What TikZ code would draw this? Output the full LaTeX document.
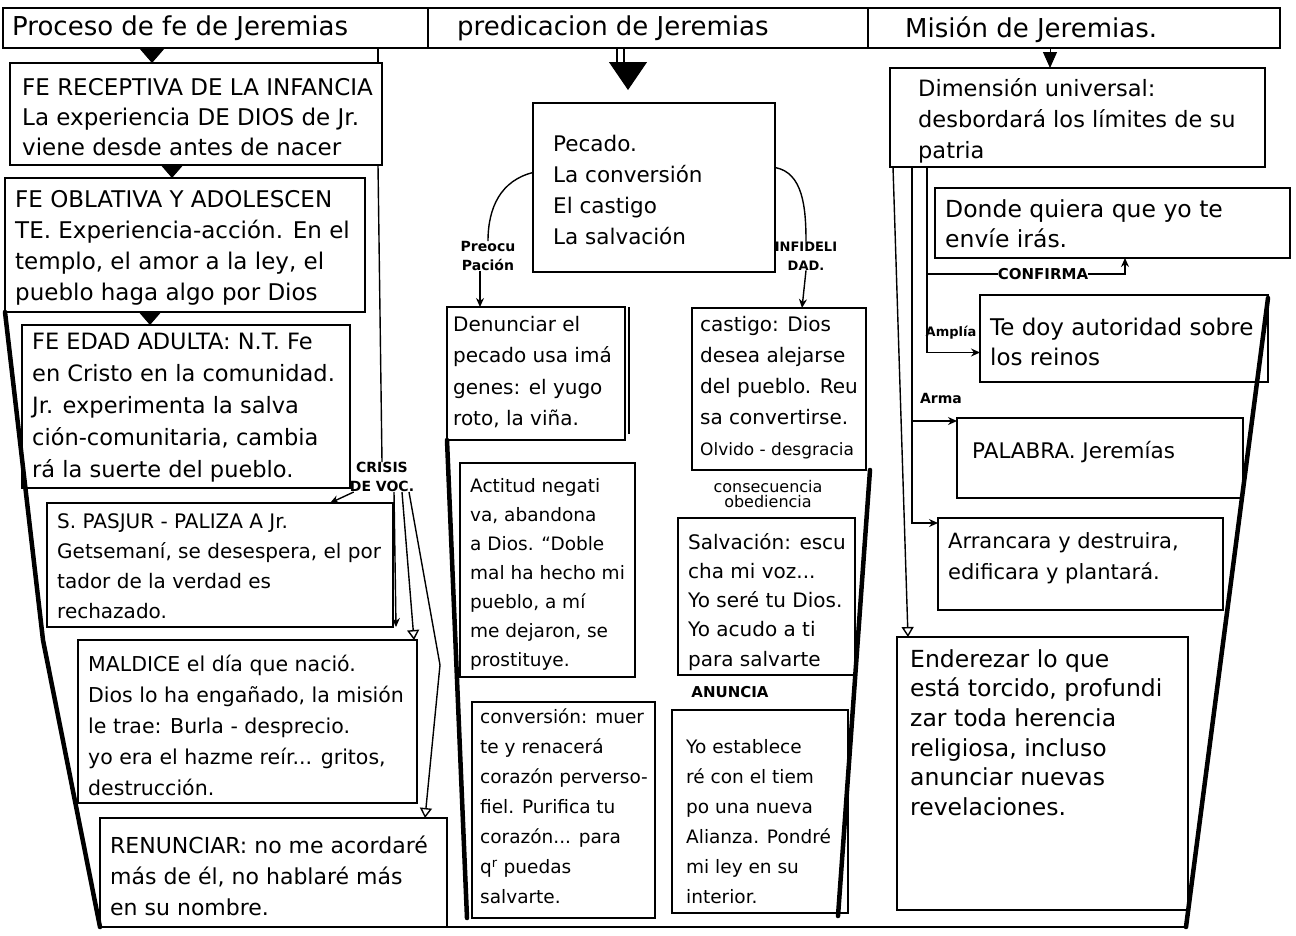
\documentclass[tikz,border=0pt]{standalone}
\usepackage{fontspec}
\setmainfont{DejaVu Sans}
\usetikzlibrary{arrows.meta}
\newcommand\fs[2]{\fontsize{#1}{#2}\selectfont}
\newcommand\tl{\rule{0pt}{0.8em}}
% box from (x1,y1) to (x2,y2), y measured downwards
\newcommand\mkpanel[5]{\node[panel, minimum width={#4-#2}, minimum height={#5-#3}] (#1) at (#2,#3) {};}
\begin{document}
\begin{tikzpicture}[x=1pt,y=-1pt,
  panel/.style={draw, line width=2pt, inner sep=0pt, outer sep=0pt, anchor=north west},
  txt/.style={anchor=north west, inner sep=0pt, align=left},
  title/.style={anchor=base west, inner sep=0pt, font=\fs{26}{30}},
  lbl/.style={inner sep=0pt, align=center, font=\bfseries\fs{14}{19}},
  link/.style={line width=1.4pt},
  heavy/.style={line width=4.5pt, line cap=round, line join=round},
  fulltri/.style={line width=1pt, -{Triangle[width=24pt,length=14pt]}},
  opentip/.style={link, -{Triangle[open,width=12pt,length=10pt]}},
  smalltip/.style={link, -{Stealth[length=9pt,width=8pt]}}]

\fill[white] (0,0) rectangle (1296,935);
\useasboundingbox (0,0) rectangle (1296,935);

% header strip with the three column titles
\mkpanel{bar}{3}{8}{1280}{48}
\draw[line width=2pt] ([xshift=425pt]bar.north west) -- ([xshift=425pt]bar.south west);
\draw[line width=2pt] ([xshift=865pt]bar.north west) -- ([xshift=865pt]bar.south west);
\node[title] (t1) at (12,35) {Proceso de fe de Jeremias};
\node[title] (t2) at (457,35) {predicacion de Jeremias};
\node[title] (t3) at (905,37) {Misión de Jeremias.};

% ---------- left column: stages of faith ----------
\mkpanel{A}{10}{63}{382}{165}
\node[txt, font=\fs{23}{30}] (At) at (22,76.5) {\tl FE RECEPTIVA DE LA INFANCIA\\La experiencia DE DIOS de Jr.\\viene desde antes de nacer};
\mkpanel{B}{5}{178}{365}{312}
\node[txt, font=\fs{23}{31}] (Bt) at (15,188.5) {\tl FE OBLATIVA Y ADOLESCEN\\TE. Experiencia-acción. En el\\templo, el amor a la ley, el\\pueblo haga algo por Dios};
\mkpanel{C}{22}{325}{350}{488}
\node[txt, font=\fs{22.5}{32}] (Ct) at (32,331.75) {\tl FE EDAD ADULTA: N.T. Fe\\en Cristo en la comunidad.\\Jr. experimenta la salva\\ción-comunitaria, cambia\\rá la suerte del pueblo.};
\mkpanel{D}{47}{503}{393}{627}
\node[txt, font=\fs{20}{30}] (Dt) at (57,512) {\tl S. PASJUR - PALIZA A Jr.\\Getsemaní, se desespera, el por\\tador de la verdad es\\rechazado.};
\mkpanel{E}{78}{640}{417}{803}
\node[txt, font=\fs{20.5}{31}] (Et) at (88,654.75) {\tl MALDICE el día que nació.\\Dios lo ha engañado, la misión\\le trae: Burla - desprecio.\\yo era el hazme reír... gritos,\\destrucción.};
\mkpanel{F}{100}{818}{447}{927}
\node[txt, font=\fs{22}{31}] (Ft) at (110,836) {\tl RENUNCIAR: no me acordaré\\más de él, no hablaré más\\en su nombre.};

\draw[fulltri] ([xshift=149pt]bar.south west) -- ([xshift=142pt]A.north west);
\draw[link] ([xshift=375pt]bar.south west) -- ([xshift=368pt]A.north west);
\draw[fulltri] ([xshift=162pt]A.south west) -- ([xshift=167pt]B.north west);
\draw[fulltri] ([xshift=145pt]B.south west) -- ([xshift=128pt]C.north west);

\node[lbl] (crisis) at (382,477) {CRISIS\\DE VOC.};
\draw[link] ([xshift=-4pt]A.south east) -- (crisis.north);
\draw[smalltip] ([xshift=4pt]crisis.south west) -- ([xshift=283pt]D.north west);
\draw[smalltip] ([xshift=12pt]crisis.south) -- ([xshift=3pt]D.south east);
\draw[opentip] ([xshift=20pt]crisis.south) -- ([xshift=-3pt]E.north east);
\coordinate (kink) at (440,665);
\draw[opentip] ([xshift=27pt]crisis.south) -- (kink) -- ([xshift=-22pt]F.north east);

\coordinate (lbend) at (43,640);
\draw[heavy] (B.south west) -- (lbend) -- (F.south west);

% ---------- middle column: preaching ----------
\mkpanel{P}{533}{103}{775}{272}
\node[txt, font=\fs{21.5}{31}] (Pt) at (553,134.25) {\tl Pecado.\\La conversión\\El castigo\\La salvación};
\draw[link] ([xshift=614pt]bar.south west) -- ++(0,16);
\draw[link] ([xshift=621pt]bar.south west) -- ++(0,16);
\draw[line width=1pt, -{Triangle[width=38pt,length=28pt]}, shorten >=13pt]
  ([xshift=625pt, yshift=-14pt]bar.south west) -- ([xshift=95pt]P.north west);

\node[lbl] (preo) at (488,256) {Preocu\\Pación};
\node[lbl, font=\bfseries\fs{13}{19}] (infi) at (806,256) {INFIDELI\\DAD.};
\draw[link] ([yshift=15pt]P.west) .. controls +(-32,8) and +(0,-34) .. (preo.north);
\draw[link] ([yshift=20pt]P.east) .. controls +(28,5) and +(0,-34) .. (infi.north);

\mkpanel{Den}{447}{307}{625}{440}
\draw[link] ([xshift=4pt]Den.north east) -- ([xshift=4pt, yshift=6pt]Den.south east);
\node[txt, font=\fs{20}{31.5}] (Dent) at (453,315) {\tl Denunciar el\\pecado usa imá\\genes: el yugo\\roto, la viña.};
\mkpanel{Cas}{692}{308}{866}{470}
\node[txt, font=\fs{20}{31}] (Cast) at (700,315) {\tl castigo: Dios\\desea alejarse\\del pueblo. Reu\\sa convertirse.\\{\fs{17}{31}Olvido - desgracia}};
\draw[smalltip] ([xshift=-8pt]preo.south) -- ([xshift=33pt]Den.north west);
\draw[smalltip] (infi.south) -- ([xshift=110pt]Cas.north west);

\mkpanel{Act}{460}{463}{635}{677}
\node[txt, font=\fs{18.5}{29}] (Actt) at (470,477.75) {\tl Actitud negati\\va, abandona\\a Dios. “Doble\\mal ha hecho mi\\pueblo, a mí\\me dejaron, se\\prostituye.};
\mkpanel{Conv}{472}{702}{655}{918}
\node[txt, font=\fs{18.5}{30}] (Convt) at (480,708.75) {\tl conversión: muer\\te y renacerá\\corazón perverso-\\fiel. Purifica tu\\corazón... para\\q\textsuperscript{r} puedas\\salvarte.};

\node[lbl, font=\fs{16}{15}] (cons) at (768,494) {consecuencia\\obediencia};
\mkpanel{Sal}{678}{518}{855}{675}
\node[txt, font=\fs{20}{29.2}] (Salt) at (688,533) {\tl Salvación: escu\\cha mi voz...\\Yo seré tu Dios.\\Yo acudo a ti\\para salvarte};
\node[lbl, font=\bfseries\fs{15}{18}] (anun) at (730,692) {ANUNCIA};
\mkpanel{Est}{672}{710}{848}{913}
\node[txt, font=\fs{18.5}{30}] (Estt) at (686,738.75) {\tl Yo establece\\ré con el tiem\\po una nueva\\Alianza. Pondré\\mi ley en su\\interior.};

\draw[heavy] (Den.south west) -- ([xshift=-5pt]Conv.south west);
\draw[heavy] ([xshift=4pt]Cas.south east) -- ([xshift=-10pt, yshift=-3pt]Est.south east);

% ---------- right column: mission ----------
\mkpanel{Dim}{890}{68}{1265}{167}
\node[txt, font=\fs{22.5}{31}] (Dimt) at (918,78.75) {\tl Dimensión universal:\\desbordará los límites de su\\patria};
\draw[line width=1pt, -{Triangle[width=14pt,length=16pt]}] ([xshift=1047pt]bar.south west) -- ([xshift=160pt]Dim.north west);

\mkpanel{Don}{935}{188}{1290}{258}
\node[txt, font=\fs{23.5}{30}] (Dont) at (945,198.25) {\tl Donde quiera que yo te\\envíe irás.};
\mkpanel{Te}{980}{295}{1268}{382}
\node[txt, font=\fs{23}{30}] (Tet) at (990,316.5) {\tl Te doy autoridad sobre\\los reinos};
\mkpanel{Pal}{957}{418}{1243}{498}
\node[txt, font=\fs{21.5}{30}] (Palt) at (972,441.25) {\tl PALABRA. Jeremías};
\mkpanel{Arr}{938}{518}{1223}{610}
\node[txt, font=\fs{21}{31}] (Arrt) at (948,531.5) {\tl Arrancara y destruira,\\edificara y plantará.};
\mkpanel{End}{897}{637}{1188}{910}
\node[txt, font=\fs{23.5}{29.6}] (Endt) at (910,648.25) {\tl Enderezar lo que\\está torcido, profundi\\zar toda herencia\\religiosa, incluso\\anunciar nuevas\\revelaciones.};

\node[lbl, font=\bfseries\fs{15}{18}] (conf) at (1043,274) {CONFIRMA};
\node[lbl, font=\bfseries\fs{13}{18}] (ampl) at (951,333) {Amplía};
\node[lbl] (arma) at (941,398) {Arma};

\draw[opentip] ([xshift=3pt]Dim.south west) -- ([xshift=11pt]End.north west);
\draw[smalltip] ([xshift=22pt]Dim.south west) |- ([yshift=-3pt]Pal.north west);
\draw[smalltip] ([xshift=22pt]Dim.south west) |- ([yshift=-5pt]Arr.north west);
\draw[smalltip] ([xshift=37pt]Dim.south west) |- ([yshift=-14pt]Te.west);
\draw[link] ([xshift=37pt]Dim.south west) |- (conf.west);
\draw[smalltip] (conf.east) -| ([xshift=190pt]Don.south west);

\coordinate (br) at (1186,927);
\draw[heavy] ([yshift=-3pt]Te.north east) -- (br);

% base line closing the chart
\draw[line width=2pt] (F.south west) -- (br);
\end{tikzpicture}
\end{document}
